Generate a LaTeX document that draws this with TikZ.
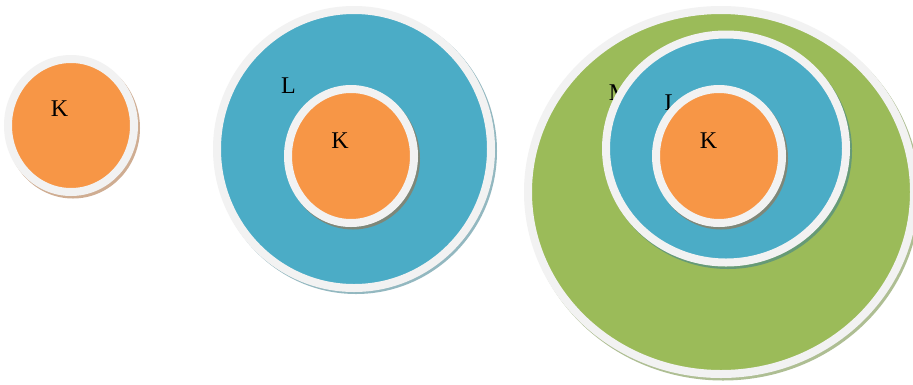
\documentclass[tikz,border=0pt]{standalone}
\usepackage{fontspec}
\setmainfont{Liberation Serif}
\usetikzlibrary{shapes.geometric}
\definecolor{korange}{HTML}{F79646}
\definecolor{lblue}{HTML}{4BACC6}
\definecolor{mgreen}{HTML}{9BBB59}
\definecolor{ringc}{HTML}{F2F2F2}
\definecolor{shorange}{HTML}{A86A3A}
\definecolor{shblue}{HTML}{3C7F8E}
\definecolor{shgreen}{HTML}{6D8A3C}
\tikzset{
  disc/.style={ellipse, inner sep=0pt, draw=ringc, line width=8pt},
  shad/.style={ellipse, inner sep=0pt, fill=#1, opacity=0.55},
  lab/.style={anchor=base, inner sep=0pt, font=\fontsize{24}{28}\selectfont}
}
\begin{document}
\begin{tikzpicture}[x=1pt,y=-1pt]
\useasboundingbox (0,0) rectangle (913,384);
\fill[white] (0,0) rectangle (913,384);
% group 1
\node[shad=shorange, minimum width=134pt, minimum height=141pt] (s1) at (73,128) {};
\node[disc, fill=korange, minimum width=126pt, minimum height=133pt] (k1) at (71,125.5) {};
\node[lab] (k1t) at (59.5,116) {K};
% group 2
\node[shad=shblue, minimum width=282pt, minimum height=286pt] (s2) at (356,151) {};
\node[disc, fill=lblue, minimum width=274pt, minimum height=278pt] (l2) at (354,149) {};
\node[lab] (l2t) at (288.5,93) {L};
\node[shad=shorange, minimum width=134pt, minimum height=142pt] (s3) at (353,158.5) {};
\node[disc, fill=korange, minimum width=126pt, minimum height=134pt] (k2) at (351,156) {};
\node[lab] (k2t) at (340,148) {K};
% group 3
\node[shad=shgreen, minimum width=394pt, minimum height=372pt] (s4) at (723,194.5) {};
\node[disc, fill=mgreen, minimum width=386pt, minimum height=364pt] (m3) at (721,192) {};
\node[lab] (m3t) at (619.5,100) {M};
\node[shad=shblue, minimum width=248pt, minimum height=236pt] (s5) at (728,151) {};
\node[disc, fill=lblue, minimum width=240pt, minimum height=228pt] (l3) at (726,148.5) {};
\node[lab] (l3t) at (672,110) {L};
\node[shad=shorange, minimum width=134pt, minimum height=142pt] (s6) at (721,158.5) {};
\node[disc, fill=korange, minimum width=126pt, minimum height=134pt] (k3) at (719,156) {};
\node[lab] (k3t) at (708.5,148) {K};
\end{tikzpicture}
\end{document}
